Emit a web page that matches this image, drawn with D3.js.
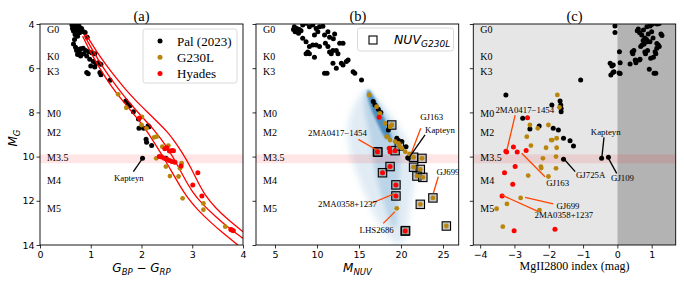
<!DOCTYPE html>
<html><head><meta charset="utf-8">
<script src="https://cdn.jsdelivr.net/npm/d3@7"></script>
<style>
body{margin:0;background:#fff}
svg{display:block}
.tick text{font-family:"DejaVu Sans",sans-serif;font-size:9.5px;fill:#000}
.tick line{stroke:#000;stroke-width:0.8}
.serif{font-family:"Liberation Serif","Times New Roman",serif}
</style></head><body>
<svg id="fig" width="684" height="285"></svg>
<script>
// ---------------- DATA ----------------
const xTicksA = [0,1,2,3,4];
const xTicksB = [5,10,15,20,25];
const xTicksC = [-4,-3,-2,-1,0,1];
const yTicks = [4,6,8,10,12,14];
const spectralTypes = ["G0","K0","K3","M0","M2","M3.5","M4","M5"];
const spectralMG    = [4.27,5.49,6.13,8.03,8.89,10.06,11.06,12.37];
const bandMG = [9.9,10.3];

// Panel (a): [G_BP-G_RP, M_G]
const palA = [[0.63,4.05],[0.66,4.0],[0.70,4.02],[0.74,4.05],[0.68,4.12],[0.72,4.15],[0.77,4.1],[0.64,4.2],[0.70,4.25],[0.75,4.22],[0.79,4.3],[0.66,4.32],[0.72,4.38],[0.78,4.4],[0.69,4.48],[0.74,4.55],[0.82,4.2],[0.86,4.35],[0.89,4.38],[0.93,4.6],[0.68,4.7],[0.66,4.9],[0.70,5.05],[0.72,5.2],[0.76,5.15],[0.80,5.12],[0.85,5.1],[0.78,5.3],[0.74,5.38],[0.80,5.45],[0.86,5.35],[0.90,5.2],[0.96,5.25],[1.02,5.3],[1.08,5.35],[0.92,5.45],[0.98,5.6],[1.05,5.7],[1.10,5.8],[1.15,5.75],[1.20,5.82],[1.00,5.9],[1.08,5.95],[1.18,6.2],[1.20,6.3],[0.92,6.2],[0.95,6.25],[1.38,6.55],
 [1.69,7.48],[1.74,7.62],[1.77,7.7],[1.84,7.97],[1.94,8.3],[1.95,8.72],[2.04,8.72],[2.13,8.6],[2.15,8.65],[2.09,9.22],[2.10,9.35],[2.20,9.5],[2.02,10.08],[2.48,10.08]];
const g230A = [[1.54,7.18],[1.70,7.79],[2.01,8.2],[2.00,8.57],[2.10,8.72],[2.25,9.13],[2.30,9.1],[2.41,9.55],[2.53,9.5],[2.29,10.08],[2.48,10.45],[2.56,10.88],[2.73,10.9],[2.76,10.53],[2.79,10.3],[2.81,11.89],[3.22,12.12],[3.22,12.4],[3.65,13.17]];
const hyadesA = [[1.96,8.25],[2.46,9.65],[2.50,9.6],[2.55,9.75],[2.60,9.72],[2.63,9.73],[2.35,10.0],[2.40,10.02],[2.45,10.08],[2.50,10.12],[2.55,10.18],[2.60,10.22],[2.66,10.25],[2.78,10.43],[3.11,10.73],[3.01,11.28],[3.19,11.78],[3.78,13.32],[3.81,13.35],[3.76,13.3]];
const curveLeft  = [[0.84,4.55],[1.0,5.3],[1.2,6.1],[1.4,6.8],[1.6,7.4],[1.8,7.95],[2.0,8.5],[2.15,9.0],[2.3,9.55],[2.45,10.1],[2.6,10.7],[2.75,11.3],[2.9,11.85],[3.1,12.4],[3.35,12.95],[3.6,13.45],[3.9,14.0]];
const curveMid   = [[0.87,4.5],[1.05,5.25],[1.25,6.0],[1.45,6.65],[1.65,7.25],[1.85,7.8],[2.05,8.3],[2.25,8.8],[2.4,9.25],[2.55,9.75],[2.7,10.35],[2.85,11.0],[3.0,11.6],[3.2,12.15],[3.45,12.7],[3.7,13.2],[4.0,13.7]];
const curveRight = [[0.9,4.45],[1.1,5.2],[1.3,5.85],[1.5,6.45],[1.7,7.0],[1.9,7.5],[2.1,7.95],[2.3,8.4],[2.5,8.85],[2.65,9.3],[2.8,9.8],[2.95,10.4],[3.1,11.1],[3.25,11.75],[3.45,12.3],[3.7,12.85],[4.0,13.4]];

// Panel (b): [M_NUV, M_G]
const palB = [[7.3,4.12],[7.6,4.2],[7.9,4.25],[7.4,4.35],[7.8,4.42],[8.1,4.3],[7.2,4.25],[8.3,4.05],[8.7,3.97],[9.1,4.12],[9.5,4.05],[9.9,4.2],[9.7,4.5],[10.1,4.35],[10.3,4.12],[10.7,4.1],[10.9,4.5],[11.3,4.35],[11.5,4.6],[12.1,4.45],[11.95,4.67],[8.3,4.65],[8.7,4.8],[9.1,5.02],[9.5,4.95],[9.9,4.95],[10.3,5.02],[8.9,5.27],[9.1,5.35],[8.7,5.35],[9.7,5.5],[11.0,4.87],[11.3,5.02],[11.5,5.27],[11.7,5.35],[11.9,5.2],[12.3,5.2],[12.5,5.35],[12.7,4.87],[13.1,4.87],[10.9,6.23],[11.2,6.23],[11.9,5.78],[12.3,6.0],[12.9,5.78],[13.1,5.85],[13.5,5.7],[13.7,5.63],[14.3,6.16],[14.5,6.23],[15.3,6.53],
 [16.7,7.51],[16.9,7.67],[17.3,7.86],[17.6,8.0],[18.5,8.8],[19.5,9.17],[19.7,9.27],[20.1,9.32],[20.6,9.55],[20.9,10.08],[20.8,10.05]];
const g230B = [[16.2,7.21],[17.1,7.74],[17.5,8.04],[18.1,8.5],[18.7,8.65],[18.9,8.57],[18.3,9.1],[18.7,9.25],[19.3,9.32],[19.7,9.4],[19.8,9.52],[20.1,9.62],[20.5,9.78],[21.0,9.88],[21.5,10.03],[22.5,10.08],[21.5,10.48],[22.3,10.58],[21.9,10.88],[22.6,10.94],[23.8,11.87],[22.3,12.16],[25.4,13.14],[19.5,12.34]];
const hyadesB = [[17.4,8.22],[18.6,9.62],[18.7,9.78],[19.3,9.73],[17.2,9.78],[18.7,10.45],[17.8,10.73],[19.4,11.28],[19.4,11.78],[20.5,13.37]];
const nuvG230B = [[18.9,8.57],[19.3,9.73],[17.2,9.78],[17.25,9.8],[19.8,9.52],[21.5,10.03],[22.5,10.08],[21.5,10.48],[22.3,10.58],[18.7,10.45],[17.8,10.73],[21.9,10.88],[22.6,10.94],[19.4,11.28],[19.4,11.78],[23.8,11.87],[22.3,12.16],[25.4,13.14],[20.5,13.37],[20.55,13.35]];
// Gaia field-star cloud, rows: [M_G, M_NUV left edge, M_NUV right edge]
const cloudOuter = [[7.0,15.7,16.2],[7.3,15.0,16.9],[7.7,14.4,17.9],[8.2,13.9,18.9],[8.7,13.7,19.8],[9.2,13.7,20.6],[9.7,13.9,21.3],[10.2,14.2,21.7],[10.7,14.7,21.8],[11.2,15.2,21.6],[11.7,15.8,21.3],[12.2,16.3,21.1],[12.7,16.9,20.9],[13.2,17.7,20.7],[13.7,18.7,20.4],[13.95,19.4,20.0]];
const cloudMid = [[7.05,15.8,16.3],[7.4,15.6,17.1],[7.9,15.7,17.9],[8.4,15.9,18.7],[8.9,16.2,19.4],[9.4,16.4,19.8],[9.9,16.6,20.0],[10.4,16.8,19.9],[10.9,17.1,19.8],[11.4,17.4,19.7],[11.9,17.8,19.6],[12.4,18.2,19.6],[12.9,18.7,19.5],[13.2,19.0,19.4]];
const cloudCore = [[7.0,15.95,16.3],[7.3,16.0,16.8],[7.7,16.3,17.3],[8.1,16.7,17.8],[8.5,17.2,18.3],[8.9,17.7,18.7],[9.2,18.2,18.9]];

// Panel (c): [MgII2800 index, M_G]
const palC = [[-0.07,4.09],[-0.07,4.39],[0.06,5.25],[0.08,5.75],[-0.21,5.78],[-0.16,5.9],[-0.12,5.85],[-0.1,6.16],[-0.13,6.2],[-0.19,6.31],[0.05,6.22],[0.08,6.24],[-1.07,6.53],[0.37,5.81],[0.52,5.63],[0.66,5.6],[0.43,5.27],[0.45,5.35],[0.48,5.2],[0.71,4.5],[0.76,4.27],[0.86,4.12],[0.61,4.23],[0.58,4.3],[0.8,4.63],[0.85,4.7],[0.75,4.75],[0.88,4.8],[0.72,4.95],[0.68,5.02],[0.78,4.9],[0.95,4.8],[0.8,5.27],[0.82,5.35],[0.88,5.2],[1.1,5.25],[1.12,5.35],[1.15,5.1],[1.19,4.95],[1.22,5.02],[1.15,4.88],[1.27,4.45],[1.3,4.52],[1.16,4.0],[1.12,3.98],[1.22,3.98],[0.95,4.09],[1.0,4.02],[1.0,4.35],[1.04,4.63],[0.93,6.05],[1.07,6.23],[1.12,6.23],[0.64,5.63],[0.54,5.75],[0.9,4.45],[0.65,4.4],[0.97,5.55],[1.05,5.5],
 [-3.25,7.21],[-1.91,7.67],[-1.67,7.48],[-1.65,7.67],[-1.64,7.82],[-1.64,7.97],[-2.76,8.27],[-2.55,8.75],[-2.28,8.61],[-1.87,8.72],[-1.72,8.8],[-1.57,9.17],[-1.38,9.28],[-1.28,9.52],[-1.57,10.12],[-0.46,10.08],[-0.26,10.03]];
const g230C = [[-1.75,7.21],[-1.69,7.77],[-2.55,8.57],[-2.32,8.72],[-2.01,8.57],[-2.64,9.1],[-1.93,9.25],[-1.9,9.25],[-1.77,9.17],[-2.52,9.5],[-2.08,9.6],[-1.77,9.6],[-2.17,10.08],[-1.79,10.0],[-2.23,10.45],[-2.22,10.52],[-1.79,10.53],[-2.6,10.86],[-2.01,10.9],[-2.82,11.87],[-3.22,12.14],[-2.27,12.42],[-3.52,12.36],[-3.34,13.17]];
const hyadesC = [[-2.62,8.24],[-3.25,9.76],[-3.23,9.79],[-3.03,9.57],[-2.92,9.79],[-2.66,9.72],[-2.98,10.45],[-3.29,10.73],[-3.05,11.25],[-3.36,11.78],[-3.01,13.35],[-1.82,13.29]];

// Annotations: label, label position, leader line end points (data units)
const annA = [{t:"Kapteyn",x:1.75,y:10.98,l:[[1.84,10.68],[2.0,10.15]],k:0}];
const annB = [
 {t:"GJ163",x:23.65,y:8.19,l:[[22.35,8.72],[21.19,9.88]],k:1},
 {t:"Kapteyn",x:24.64,y:8.8,l:[[22.86,9.02],[20.99,10.03]],k:0},
 {t:"2MA0417\u22121454",x:12.44,y:8.95,l:[[14.92,9.22],[17.11,9.7]],k:1},
 {t:"GJ699",x:25.6,y:10.68,l:[[24.44,10.91],[23.85,11.66]],k:1},
 {t:"2MA0358+1237",x:13.63,y:12.14,l:[[16.55,12.1],[19.17,11.69]],k:1},
 {t:"LHS2686",x:17.1,y:13.32,l:[[17.89,13.02],[19.29,12.49]],k:1}];
const annC = [
 {t:"2MA0417\u22121454",x:-2.70,y:7.89,l:[[-2.98,8.12],[-3.22,9.7]],k:1},
 {t:"GJ163",x:-1.74,y:11.21,l:[[-2.79,9.85],[-2.11,10.91]],k:1},
 {t:"GJ699",x:-1.44,y:12.22,l:[[-2.69,11.84],[-1.87,12.14]],k:1},
 {t:"2MA0358+1237",x:-1.56,y:12.64,l:[[-3.37,11.74],[-2.3,12.49]],k:1},
 {t:"GJ725A",x:-0.78,y:10.83,l:[[-1.55,10.12],[-1.23,10.68]],k:0},
 {t:"Kapteyn",x:-0.34,y:8.87,l:[[-0.39,9.13],[-0.45,10.0]],k:0},
 {t:"GJ109",x:0.15,y:10.98,l:[[-0.26,10.08],[-0.02,10.76]],k:0}];

// ---------------- DRAW ----------------
const svg = d3.select("#fig");
const COL = {pal:"#000000", g230:"#b8860b", hy:"#ff0000", ann:"#ff4500"};
const y = d3.scaleLinear().domain([4,14]).range([24,245]);
const xa = d3.scaleLinear().domain([0,4]).range([40,243]);
const xb = d3.scaleLinear().domain([2.74,26.87]).range([256,458.7]);
const xc = d3.scaleLinear().domain([-4.2,1.7]).range([473.3,675.7]);

const defs = svg.append("defs");
[["blur1",3.0],["blur2",2.0],["blur3",1.0]].forEach(([id,s])=>{
  defs.append("filter").attr("id",id).attr("x","-20%").attr("y","-20%").attr("width","140%").attr("height","140%")
    .append("feGaussianBlur").attr("stdDeviation",s);
});

function panel(id, x){
  const [x0,x1] = x.range();
  defs.append("clipPath").attr("id","clip"+id).append("rect")
    .attr("x",x0).attr("y",24).attr("width",x1-x0).attr("height",221);
  const g = svg.append("g");
  const inner = g.append("g").attr("clip-path",`url(#clip${id})`);
  return {g, inner, x0, x1};
}
function dots(g, x, data, color, r){
  g.append("g").selectAll("circle").data(data).join("circle")
    .attr("cx",d=>x(d[0])).attr("cy",d=>y(d[1])).attr("r",r||2.4).attr("fill",color);
}
function band(g, x){
  const [x0,x1]=x.range();
  g.append("rect").attr("x",x0).attr("width",x1-x0)
    .attr("y",y(bandMG[0])).attr("height",y(bandMG[1])-y(bandMG[0]))
    .attr("fill","#ff0000").attr("fill-opacity",0.1);
}
function spectral(g, x0){
  g.append("g").selectAll("text").data(spectralTypes).join("text")
    .attr("class","serif").attr("x",x0+7).attr("y",(d,i)=>y(spectralMG[i]))
    .attr("dominant-baseline","central").attr("font-size",10).text(d=>d);
}
function annotate(g, x, anns){
  anns.forEach(a=>{
    g.append("line").attr("x1",x(a.l[0][0])).attr("y1",y(a.l[0][1]))
      .attr("x2",x(a.l[1][0])).attr("y2",y(a.l[1][1]))
      .attr("stroke",a.k?COL.ann:"#000").attr("stroke-width",1.3);
    g.append("text").attr("class","serif").attr("x",x(a.x)).attr("y",y(a.y))
      .attr("text-anchor","middle").attr("dominant-baseline","central")
      .attr("font-size",8.8).text(a.t);
  });
}
function axes(p, x, ticks, showY){
  const ax = p.g.append("g").attr("transform","translate(0,245)")
    .call(d3.axisBottom(x).tickValues(ticks).tickSize(3.5).tickPadding(3).tickFormat(d3.format("d")));
  ax.select(".domain").remove();
  const ay = p.g.append("g").attr("transform",`translate(${p.x0},0)`)
    .call(d3.axisLeft(y).tickValues(yTicks).tickSize(3.5).tickPadding(2).tickFormat(showY?d3.format("d"):""));
  ay.select(".domain").remove();
  ax.selectAll("text").text(d=>d<0?"\u2212"+Math.abs(d):d);
  p.g.append("rect").attr("x",p.x0).attr("y",24).attr("width",p.x1-p.x0).attr("height",221)
    .attr("fill","none").attr("stroke","#000").attr("stroke-width",0.9);
}
function title(t, cx){
  svg.append("text").attr("class","serif").attr("x",cx).attr("y",15.5)
    .attr("text-anchor","middle").attr("dominant-baseline","central").attr("font-size",14.5).text(t);
}

// ---- Panel (a)
const pa = panel("a", xa);
band(pa.inner, xa);
dots(pa.inner, xa, palA, COL.pal, 2.5);
const lineA = d3.line().x(d=>xa(d[0])).y(d=>y(d[1])).curve(d3.curveBasis);
[curveLeft, curveMid, curveRight].forEach(c=>{
  pa.inner.append("path").attr("d",lineA(c)).attr("fill","none").attr("stroke","#ff0000").attr("stroke-width",1.3);
});
dots(pa.inner, xa, g230A, COL.g230, 2.4);
dots(pa.inner, xa, hyadesA, COL.hy, 2.5);
annotate(pa.inner, xa, annA);
spectral(pa.inner, pa.x0);
axes(pa, xa, xTicksA, true);
title("(a)", 141.5);
// legend (a)
const lgA = pa.g.append("g");
lgA.append("rect").attr("x",143).attr("y",29).attr("width",94).attr("height",54).attr("rx",2.5)
  .attr("fill","#fff").attr("fill-opacity",0.85).attr("stroke","#d0d0d0").attr("stroke-width",0.8);
[["Pal (2023)",COL.pal],["G230L",COL.g230],["Hyades",COL.hy]].forEach((e,i)=>{
  lgA.append("circle").attr("cx",160).attr("cy",41+i*16.2).attr("r",2.5).attr("fill",e[1]);
  lgA.append("text").attr("class","serif").attr("x",177).attr("y",41+i*16.2)
    .attr("dominant-baseline","central").attr("font-size",13).text(e[0]);
});

// ---- Panel (b)
const pb = panel("b", xb);
const areaB = d3.area().y(d=>y(d[0])).x0(d=>xb(d[1])).x1(d=>xb(d[2])).curve(d3.curveBasis);
pb.inner.append("path").attr("d",areaB(cloudOuter)).attr("fill","#1f77b4").attr("fill-opacity",0.15).attr("filter","url(#blur1)");
pb.inner.append("path").attr("d",areaB(cloudMid)).attr("fill","#1f77b4").attr("fill-opacity",0.2).attr("filter","url(#blur2)");
pb.inner.append("path").attr("d",areaB(cloudCore)).attr("fill","#1f6fae").attr("fill-opacity",0.7).attr("filter","url(#blur3)");
band(pb.inner, xb);
dots(pb.inner, xb, palB, COL.pal, 2.5);
pb.inner.append("g").selectAll("rect").data(nuvG230B).join("rect")
  .attr("x",d=>xb(d[0])-4.2).attr("y",d=>y(d[1])-4.2).attr("width",8.4).attr("height",8.4)
  .attr("fill","#808080").attr("fill-opacity",0.45).attr("stroke","#000").attr("stroke-width",1.1);
dots(pb.inner, xb, g230B, COL.g230, 2.4);
dots(pb.inner, xb, hyadesB, COL.hy, 2.5);
annotate(pb.inner, xb, annB);
spectral(pb.inner, pb.x0);
axes(pb, xb, xTicksB, false);
title("(b)", 358);
const lgB = pb.g.append("g");
lgB.append("rect").attr("x",357.5).attr("y",28).attr("width",96).attr("height",23).attr("rx",2.5)
  .attr("fill","#fff").attr("fill-opacity",0.85).attr("stroke","#d0d0d0").attr("stroke-width",0.8);
lgB.append("rect").attr("x",369).attr("y",36).attr("width",8).attr("height",8).attr("fill","#fff").attr("stroke","#000").attr("stroke-width",1.1);
const tB = lgB.append("text").attr("x",394).attr("y",44).attr("font-family","DejaVu Sans").attr("font-style","italic").attr("font-size",12.5);
tB.append("tspan").text("NUV");
tB.append("tspan").attr("font-size",9).attr("dy",2.5).text("G230L");

// ---- Panel (c)
const pc = panel("c", xc);
pc.inner.append("rect").attr("x",xc(-4.2)).attr("width",xc(0)-xc(-4.2)).attr("y",24).attr("height",221).attr("fill","#e6e6e6");
pc.inner.append("rect").attr("x",xc(0)).attr("width",xc(1.7)-xc(0)).attr("y",24).attr("height",221).attr("fill","#b3b3b3");
band(pc.inner, xc);
dots(pc.inner, xc, palC, COL.pal, 2.5);
dots(pc.inner, xc, g230C, COL.g230, 2.4);
dots(pc.inner, xc, hyadesC, COL.hy, 2.5);
annotate(pc.inner, xc, annC);
spectral(pc.inner, pc.x0);
axes(pc, xc, xTicksC, false);
title("(c)", 574.5);

// ---- axis labels
const la = svg.append("text").attr("x",141.5).attr("y",272).attr("text-anchor","middle")
  .attr("font-family","DejaVu Sans").attr("font-style","italic").attr("font-size",12);
la.append("tspan").text("G");
la.append("tspan").attr("font-size",8.5).attr("dy",2.5).text("BP");
la.append("tspan").attr("dy",-2.5).attr("font-style","normal").text(" \u2212 ");
la.append("tspan").text("G");
la.append("tspan").attr("font-size",8.5).attr("dy",2.5).text("RP");
const lb = svg.append("text").attr("x",357.5).attr("y",272).attr("text-anchor","middle")
  .attr("font-family","DejaVu Sans").attr("font-style","italic").attr("font-size",12);
lb.append("tspan").text("M");
lb.append("tspan").attr("font-size",8.5).attr("dy",2.5).text("NUV");
svg.append("text").attr("class","serif").attr("x",574.5).attr("y",270).attr("text-anchor","middle")
  .attr("font-size",12).text("MgII2800 index (mag)");
const ly = svg.append("text").attr("transform","translate(17,138) rotate(-90)").attr("text-anchor","middle")
  .attr("font-family","DejaVu Sans").attr("font-style","italic").attr("font-size",12);
ly.append("tspan").text("M");
ly.append("tspan").attr("font-size",8.5).attr("dy",2.5).text("G");
</script>
</body></html>
